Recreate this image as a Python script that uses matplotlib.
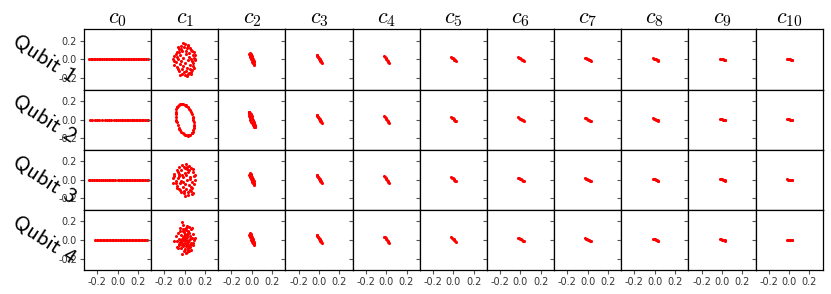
import matplotlib
matplotlib.use("Agg")
import matplotlib.pyplot as plt

plt.rcParams['mathtext.fontset'] = 'cm'
plt.rcParams['axes.unicode_minus'] = False

# column titles and row labels
cols = [r'$c_{%d}$' % i for i in range(11)]
rows = ['Qubit 1', 'Qubit 2', 'Qubit 3', 'Qubit 4']
ticks = [-0.2, 0.0, 0.2]
tick_labels = ['-0.2', '0.0', '0.2']

# c0: points lying on y = 0
c0_x_q1 = [-0.28, -0.265, -0.25, -0.235, -0.22, -0.2, -0.185, -0.17, -0.15, -0.13, -0.115, -0.1, -0.08,
           -0.065, -0.05, -0.03, -0.015, 0.0, 0.015, 0.03, 0.05, 0.065, 0.08, 0.1, 0.115, 0.13, 0.15,
           0.165, 0.18, 0.2, 0.215, 0.23, 0.25, 0.265, 0.28, 0.295]
c0_x_q2 = [-0.27, -0.25, -0.22, -0.2, -0.18, -0.15, -0.12, -0.105, -0.08, -0.065, -0.03, -0.015, 0.0,
           0.02, 0.04, 0.055, 0.07, 0.09, 0.1, 0.12, 0.14, 0.15, 0.165, 0.18, 0.195, 0.21, 0.225,
           0.24, 0.255, 0.27, 0.285, 0.3]
c0_x_q3 = [-0.285, -0.27, -0.25, -0.235, -0.215, -0.2, -0.18, -0.16, -0.14, -0.12, -0.1, -0.085, -0.07,
           -0.055, -0.04, -0.02, 0.0, 0.01, 0.03, 0.045, 0.06, 0.08, 0.095, 0.11, 0.125, 0.14, 0.16,
           0.175, 0.19, 0.21, 0.225, 0.24, 0.255, 0.27, 0.285, 0.3]
c0_x_q4 = [-0.22, -0.205, -0.19, -0.175, -0.16, -0.145, -0.13, -0.115, -0.1, -0.085, -0.07, -0.055,
           -0.04, -0.025, -0.01, 0.005, 0.02, 0.035, 0.05, 0.065, 0.08, 0.095, 0.11, 0.125, 0.14,
           0.155, 0.17, 0.185, 0.2, 0.215, 0.23, 0.245, 0.26, 0.275, 0.29]

# c1 clouds
c1_q1_x = [-0.02, 0.0, 0.03, -0.04, 0.05, -0.06, 0.02, -0.01, 0.07, -0.08, -0.03, 0.04, 0.08, -0.1,
           -0.05, 0.01, 0.09, -0.11, -0.07, 0.06, 0.1, -0.02, 0.03, -0.09, 0.08, -0.05, 0.0, 0.05,
           -0.08, 0.09, -0.03, 0.02, 0.07, -0.06, -0.01, 0.04, 0.0, 0.03, -0.03, 0.06, -0.09, 0.06,
           -0.07, 0.01, -0.04, 0.07, -0.1, 0.1, -0.02, 0.04, -0.06, 0.03, 0.08, -0.07, 0.05, 0.01,
           -0.04, 0.09, -0.1, 0.1, -0.08, 0.02, -0.05, 0.06]
c1_q1_y = [0.17, 0.16, 0.15, 0.14, 0.12, 0.11, 0.12, 0.13, 0.09, 0.08, 0.09, 0.07, 0.05, 0.04,
           0.05, 0.06, 0.02, 0.01, 0.0, 0.01, -0.01, 0.02, -0.01, -0.03, -0.04, -0.05, -0.04, -0.06,
           -0.08, -0.09, -0.1, -0.09, -0.11, -0.12, -0.13, -0.14, -0.17, -0.16, -0.15, -0.13, 0.06,
           0.1, 0.13, 0.09, -0.02, -0.02, -0.06, 0.05, -0.07, 0.03, 0.08, 0.14, -0.07, -0.1, -0.1,
           -0.12, 0.11, 0.08, -0.02, 0.0, 0.03, -0.18, -0.17, -0.15]

# c1 qubit 2: ring
c1_q2_x = [0.085, 0.079, 0.07, 0.059, 0.046, 0.032, 0.017, 0.001, -0.015, -0.03, -0.044, -0.057,
           -0.069, -0.078, -0.084, -0.089, -0.09, -0.089, -0.085, -0.079, -0.07, -0.059, -0.046,
           -0.032, -0.017, -0.001, 0.015, 0.03, 0.044, 0.057, 0.069, 0.078, 0.084, 0.089, 0.09, 0.089,
           0.082, 0.053, 0.009, -0.037, -0.074, -0.09, -0.082, -0.053, -0.009, 0.037, 0.074, 0.09]
c1_q2_y = [0.0, 0.03, 0.058, 0.085, 0.109, 0.13, 0.147, 0.16, 0.167, 0.17, 0.167, 0.16, 0.147, 0.13,
           0.109, 0.085, 0.058, 0.03, 0.0, -0.03, -0.058, -0.085, -0.109, -0.13, -0.147, -0.16,
           -0.167, -0.17, -0.167, -0.16, -0.147, -0.13, -0.109, -0.085, -0.058, -0.03,
           0.015, 0.098, 0.154, 0.169, 0.139, 0.072, -0.015, -0.098, -0.154, -0.169, -0.139, -0.072]

c1_q3_x = [-0.03, 0.01, 0.04, -0.06, 0.06, -0.01, 0.02, -0.08, -0.04, 0.08, 0.03, -0.1, -0.06, 0.0,
           0.09, -0.11, -0.07, -0.02, 0.05, 0.1, -0.09, -0.04, 0.02, 0.07, -0.11, -0.05, 0.0, 0.09,
           -0.08, 0.04, -0.02, 0.07, -0.06, 0.01, 0.05, -0.04, -0.01, 0.03, 0.06, -0.08, 0.0, 0.08,
           -0.03, 0.04, -0.07, 0.02, 0.1, -0.1, -0.05, 0.06, 0.08, -0.02, 0.01, 0.03, -0.06, 0.05,
           -0.09, 0.07, -0.01, 0.0]
c1_q3_y = [0.16, 0.17, 0.15, 0.13, 0.12, 0.14, 0.11, 0.1, 0.1, 0.08, 0.08, 0.06, 0.06, 0.07, 0.04,
           0.02, 0.02, 0.03, 0.03, 0.0, -0.01, -0.01, 0.0, -0.02, -0.03, -0.04, -0.05, -0.05, -0.07,
           -0.06, -0.08, -0.09, -0.1, -0.1, -0.11, -0.13, -0.14, -0.13, -0.12, -0.09, -0.17, -0.14,
           0.05, 0.1, 0.08, 0.13, 0.05, 0.04, -0.11, -0.08, 0.11, -0.02, 0.05, -0.16, 0.04, 0.01,
           -0.04, -0.15, -0.12, 0.12]

c1_q4_x = [-0.03, 0.02, 0.0, -0.05, 0.04, 0.01, -0.02, 0.06, -0.07, -0.01, 0.03, 0.08, -0.09, -0.04,
           0.02, 0.05, -0.02, 0.0, 0.07, -0.06, -0.03, 0.01, 0.04, 0.09, -0.08, -0.05, 0.0, 0.03,
           0.06, -0.03, -0.01, 0.02, 0.05, -0.06, -0.02, 0.01, 0.04, 0.08, -0.04, 0.0, 0.03, -0.07,
           -0.01, 0.02, 0.06, -0.03, 0.01, 0.04, -0.05, -0.02, 0.0, 0.03, -0.01, 0.02, -0.04, 0.05,
           0.0, 0.01, -0.03, 0.03, -0.1, 0.1, -0.02, 0.07, 0.05, -0.06, 0.04, -0.04, 0.01, -0.08,
           0.08, -0.01, 0.02, 0.0, -0.02, 0.03]
c1_q4_y = [0.19, 0.15, 0.12, 0.13, 0.14, 0.1, 0.09, 0.11, 0.07, 0.08, 0.07, 0.06, 0.04, 0.05, 0.05,
           0.04, 0.03, 0.02, 0.02, 0.01, 0.01, 0.0, 0.0, 0.0, -0.01, -0.02, -0.01, -0.02, -0.03,
           -0.03, -0.04, -0.05, -0.05, -0.06, -0.07, -0.07, -0.08, -0.06, -0.09, -0.1, -0.11, -0.09,
           -0.12, -0.13, -0.11, -0.15, -0.14, -0.12, 0.09, 0.11, 0.06, 0.09, 0.04, 0.03, 0.0, 0.01,
           -0.03, 0.0, -0.06, -0.09, -0.01, 0.02, 0.16, 0.13, -0.08, -0.04, 0.07, -0.02, 0.13, -0.08,
           -0.03, 0.02, -0.04, 0.05, 0.0, -0.06]

# c2: thin blob (q1, q3, q4) and small ring (q2)
c2_blob_x = [-0.02, -0.016, -0.011, -0.007, -0.002, 0.003, 0.007, 0.012, 0.016, 0.021, 0.025,
             -0.009, -0.004, 0.001, 0.005, 0.01, 0.014, 0.019, 0.023,
             -0.023, -0.018, -0.014, -0.009, -0.005, 0.0, 0.005, 0.009]
c2_blob_y = [0.07, 0.057, 0.044, 0.031, 0.018, 0.005, -0.008, -0.021, -0.034, -0.047, -0.06,
             0.059, 0.046, 0.033, 0.02, 0.007, -0.006, -0.019, -0.032,
             0.055, 0.042, 0.029, 0.016, 0.003, -0.01, -0.023, -0.036]
c2_ring_x = [0.014, 0.006, -0.002, -0.01, -0.017, -0.023, -0.028, -0.031, -0.031, -0.03, -0.026, -0.021,
             -0.014, -0.006, 0.002, 0.01, 0.017, 0.023, 0.028, 0.031, 0.031, 0.03, 0.026, 0.021]
c2_ring_y = [0.0, 0.021, 0.04, 0.057, 0.069, 0.077, 0.08, 0.077, 0.069, 0.057, 0.04, 0.021,
             0.0, -0.021, -0.04, -0.057, -0.069, -0.077, -0.08, -0.077, -0.069, -0.057, -0.04, -0.021]

# c3..c10: short streaks, shared by all qubits
c3_x = [-0.022, -0.016, -0.01, -0.004, 0.002, 0.008, 0.014, 0.02, 0.026, -0.018, -0.006, 0.006, 0.018]
c3_y = [0.048, 0.038, 0.028, 0.018, 0.008, -0.002, -0.012, -0.022, -0.034, 0.048, 0.028, 0.008, -0.012]
c4_x = [-0.02, -0.013, -0.006, 0.001, 0.008, 0.015, 0.022, 0.028]
c4_y = [0.035, 0.025, 0.015, 0.005, -0.005, -0.015, -0.025, -0.033]
c5_x = [-0.022, -0.014, -0.006, 0.002, 0.01, 0.018, 0.026]
c5_y = [0.027, 0.02, 0.013, 0.005, -0.002, -0.01, -0.018]
c6_x = [-0.024, -0.015, -0.006, 0.003, 0.012, 0.021, 0.03]
c6_y = [0.023, 0.017, 0.011, 0.004, -0.002, -0.009, -0.015]
c7_x = [-0.022, -0.013, -0.004, 0.005, 0.014, 0.023, 0.032]
c7_y = [0.017, 0.012, 0.006, 0.0, -0.006, -0.011, -0.016]
c8_x = [-0.022, -0.012, -0.002, 0.008, 0.018, 0.028, 0.036]
c8_y = [0.012, 0.008, 0.004, 0.0, -0.005, -0.009, -0.012]
c9_x = [-0.022, -0.012, -0.002, 0.008, 0.018, 0.028, 0.034]
c9_y = [0.01, 0.007, 0.003, 0.0, -0.004, -0.007, -0.009]
c10_x = [-0.024, -0.014, -0.004, 0.006, 0.016, 0.026, 0.032]
c10_y = [0.003, 0.002, 0.001, 0.0, -0.001, -0.002, -0.003]

streaks = [(c3_x, c3_y), (c4_x, c4_y), (c5_x, c5_y), (c6_x, c6_y), (c7_x, c7_y),
           (c8_x, c8_y), (c9_x, c9_y), (c10_x, c10_y)]
c0_rows = [c0_x_q1, c0_x_q2, c0_x_q3, c0_x_q4]
c1_rows = [(c1_q1_x, c1_q1_y), (c1_q2_x, c1_q2_y), (c1_q3_x, c1_q3_y), (c1_q4_x, c1_q4_y)]
c2_rows = [(c2_blob_x, c2_blob_y), (c2_ring_x, c2_ring_y), (c2_blob_x, c2_blob_y), (c2_blob_x, c2_blob_y)]

fig, axes = plt.subplots(4, 11, figsize=(8.31, 2.94), dpi=100)
fig.subplots_adjust(left=0.101, right=0.990, top=0.900, bottom=0.082, wspace=0, hspace=0)

for r in range(4):
    for c in range(11):
        ax = axes[r, c]
        if c == 0:
            px = c0_rows[r]
            py = [0.0] * len(px)
        elif c == 1:
            px, py = c1_rows[r]
        elif c == 2:
            px, py = c2_rows[r]
        else:
            px, py = streaks[c - 3]
        ax.scatter(px, py, s=5, color='red', linewidths=0)
        ax.set_xlim(-0.33, 0.33)
        ax.set_ylim(-0.32, 0.32)
        ax.set_xticks(ticks)
        ax.set_yticks(ticks)
        ax.tick_params(length=3, width=0.8, color='#555555', labelsize=7, labelcolor='#333333', pad=2)
        if c == 0:
            ax.set_yticklabels(tick_labels)
        else:
            ax.set_yticklabels([])
        if r == 3:
            ax.set_xticklabels(tick_labels)
        else:
            ax.tick_params(axis='x', length=0)
            ax.set_xticklabels([])
        for sp in ax.spines.values():
            sp.set_linewidth(0.9)
            sp.set_color('black')
        if r == 0:
            ax.set_title(cols[c], fontsize=16, pad=2)
    axes[r, 0].text(-0.6, 0.5, rows[r], transform=axes[r, 0].transAxes, family='cmss10',
                    fontsize=16, rotation=-33, ha='center', va='center', rotation_mode='anchor')

plt.savefig('out.png', dpi=100)
